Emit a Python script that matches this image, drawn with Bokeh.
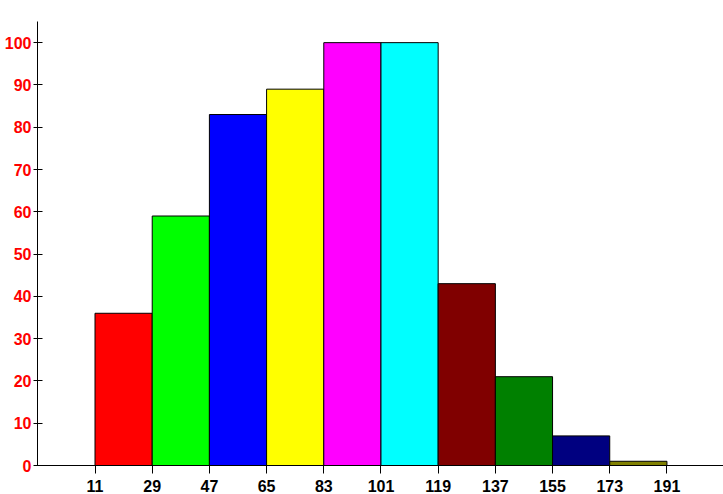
from bokeh.plotting import figure
from bokeh.models import FixedTicker, Range1d, ColumnDataSource
from bokeh.embed import file_html
from bokeh.resources import INLINE

edges = [11, 29, 47, 65, 83, 101, 119, 137, 155, 173, 191]
counts = [36, 59, 83, 89, 100, 100, 43, 21, 7, 1]
colors = ["#ff0000", "#00ff00", "#0000ff", "#ffff00", "#ff00ff",
          "#00ffff", "#800000", "#008000", "#000080", "#808000"]
y_ticks = list(range(0, 101, 10))

src = ColumnDataSource(dict(left=edges[:-1], right=edges[1:],
                            top=counts, bottom=[0] * len(counts), color=colors))

p = figure(width=723, height=494, output_backend="svg", toolbar_location=None,
           x_range=Range1d(-7.1, 208.8), y_range=Range1d(0, 105),
           min_border_left=37, min_border_right=0, min_border_top=21, min_border_bottom=28)
p.quad(left="left", right="right", top="top", bottom="bottom", fill_color="color",
       line_color="black", line_width=1, source=src)

p.grid.visible = False
p.outline_line_color = None
p.background_fill_color = "white"
p.border_fill_color = "white"

p.xaxis.ticker = FixedTicker(ticks=edges)
p.xaxis.major_tick_in = 0
p.xaxis.major_tick_out = 8
p.xaxis.minor_tick_line_color = None
p.xaxis.major_label_standoff = 6
p.xaxis.major_label_text_color = "black"

p.yaxis.ticker = FixedTicker(ticks=y_ticks)
p.yaxis.major_tick_in = 5
p.yaxis.major_tick_out = 4
p.yaxis.minor_tick_line_color = None
p.yaxis.major_label_standoff = 2
p.yaxis.major_label_text_color = "#ff0000"

for ax in (p.xaxis, p.yaxis):
    ax.axis_line_color = "black"
    ax.major_tick_line_color = "black"
    ax.major_label_text_font = "Liberation Sans"
    ax.major_label_text_font_style = "bold"
    ax.major_label_text_font_size = "16px"

open("out.html", "w").write(file_html(p, INLINE))
